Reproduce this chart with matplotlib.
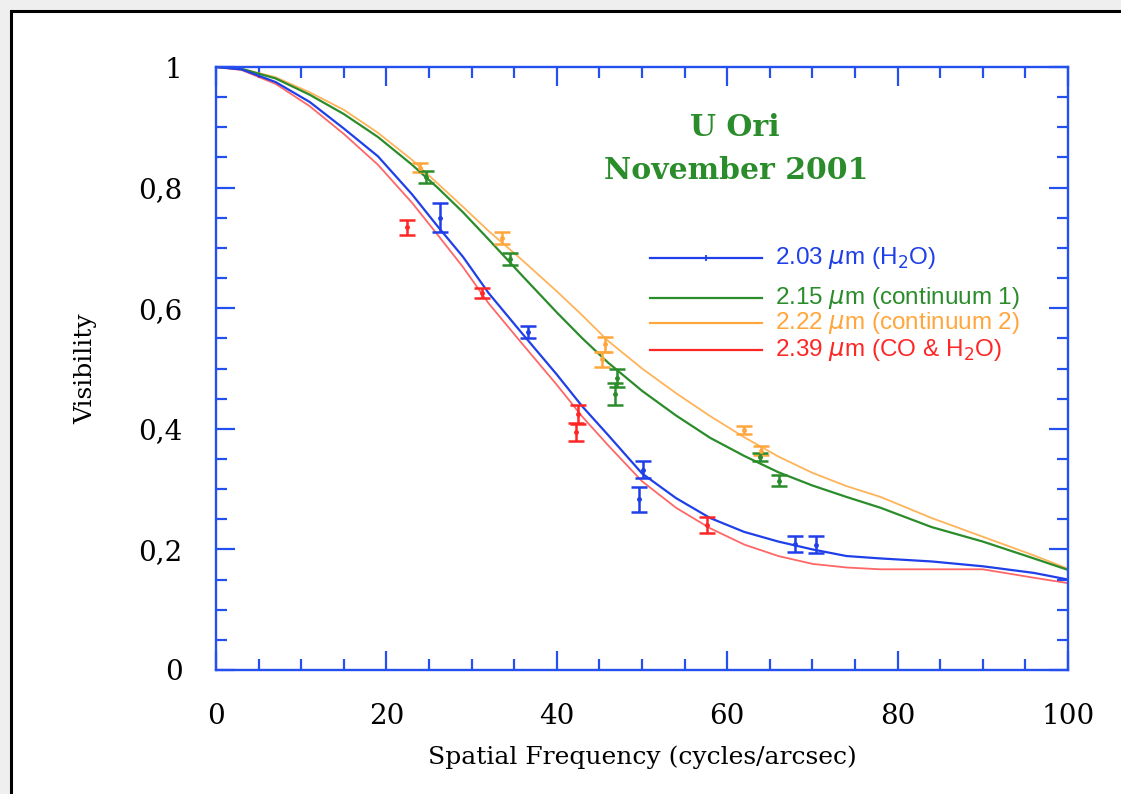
import numpy as np
import matplotlib
matplotlib.use("Agg")
import matplotlib.pyplot as plt
from matplotlib.patches import Rectangle

# model curves (spatial frequency in cycles/arcsec)
freq = [0, 3, 7, 11, 15, 19, 23, 26, 29, 32, 36, 40, 43, 46, 50, 54, 58,
        62, 66, 70, 74, 78, 84, 90, 96, 100]
vis_203 = [1.0, 0.996, 0.975, 0.942, 0.898, 0.852, 0.789, 0.736, 0.685, 0.625,
           0.557, 0.490, 0.437, 0.390, 0.326, 0.285, 0.252, 0.229, 0.213, 0.200,
           0.189, 0.185, 0.180, 0.172, 0.161, 0.150]
vis_215 = [1.0, 0.997, 0.981, 0.954, 0.922, 0.884, 0.838, 0.800, 0.759, 0.714,
           0.653, 0.593, 0.550, 0.510, 0.463, 0.422, 0.385, 0.355, 0.328, 0.306,
           0.287, 0.269, 0.237, 0.213, 0.185, 0.166]
vis_222 = [1.0, 0.997, 0.983, 0.958, 0.929, 0.891, 0.846, 0.807, 0.768, 0.728,
           0.679, 0.628, 0.588, 0.546, 0.500, 0.459, 0.421, 0.386, 0.354, 0.327,
           0.305, 0.287, 0.252, 0.221, 0.190, 0.168]
vis_239 = [1.0, 0.995, 0.972, 0.935, 0.889, 0.838, 0.775, 0.722, 0.668, 0.608,
           0.540, 0.473, 0.420, 0.373, 0.313, 0.269, 0.235, 0.208, 0.189, 0.176,
           0.170, 0.167, 0.167, 0.167, 0.153, 0.144]

# measured visibilities: frequency, value, error
obs_203_x = [26.3, 36.6, 50.1, 49.6, 68.0, 70.4]
obs_203_y = [0.750, 0.560, 0.332, 0.283, 0.209, 0.208]
obs_203_e = [0.024, 0.010, 0.014, 0.021, 0.013, 0.014]

obs_215_x = [24.6, 34.5, 47.1, 46.8, 63.9, 66.1]
obs_215_y = [0.817, 0.682, 0.485, 0.458, 0.353, 0.314]
obs_215_e = [0.010, 0.010, 0.015, 0.018, 0.007, 0.009]

obs_222_x = [24.0, 33.6, 45.6, 45.3, 62.0, 64.0]
obs_222_y = [0.833, 0.717, 0.540, 0.515, 0.398, 0.364]
obs_222_e = [0.007, 0.010, 0.012, 0.012, 0.006, 0.007]

obs_239_x = [22.4, 31.2, 42.5, 42.3, 57.6]
obs_239_y = [0.734, 0.625, 0.424, 0.394, 0.241]
obs_239_e = [0.013, 0.008, 0.016, 0.015, 0.013]

labels = [r"2.03 $\mu$m (H$_2$O)", r"2.15 $\mu$m (continuum 1)",
          r"2.22 $\mu$m (continuum 2)", r"2.39 $\mu$m (CO & H$_2$O)"]

blue = "#1f3fe8"
green = "#2a8c2a"
orange = "#ffa63c"
red = "#ff2626"
axcol = "#2450f0"

fig = plt.figure(figsize=(11.21, 7.94), dpi=100)
fig.patch.set_facecolor("#efefef")
frame = Rectangle((11 / 1121, -0.05), 1.2, 1.05 - 11 / 794,
                  transform=fig.transFigure, facecolor="white",
                  edgecolor="black", linewidth=2.2, zorder=-10)
fig.add_artist(frame)

ax = fig.add_axes([216 / 1121, 124 / 794, 852 / 1121, 603 / 794])
ax.set_facecolor("white")

ax.plot(freq, vis_222, color=orange, lw=1.3, alpha=0.85)
ax.plot(freq, vis_215, color=green, lw=1.6)
ax.plot(freq, vis_239, color=red, lw=1.3, alpha=0.7)
ax.plot(freq, vis_203, color=blue, lw=1.6)

for xs, ys, es, c in [(obs_222_x, obs_222_y, obs_222_e, orange),
                      (obs_215_x, obs_215_y, obs_215_e, green),
                      (obs_239_x, obs_239_y, obs_239_e, red),
                      (obs_203_x, obs_203_y, obs_203_e, blue)]:
    ax.errorbar(xs, ys, yerr=es, fmt="o", ms=2.5, color=c, ecolor=c,
                elinewidth=1.8, capsize=5.5, capthick=1.8)

# legend drawn by hand
rows = [0.683, 0.617, 0.575, 0.531]
for lab, c, yy in zip(labels, [blue, green, orange, red], rows):
    ax.plot([50.9, 64.1], [yy, yy], color=c, lw=1.6)
    ax.text(65.6, yy, lab, color=c, fontsize=17.5, family="Liberation Sans",
            va="center", ha="left")
ax.plot([57.5], [rows[0]], marker="|", ms=5, color=blue, mew=1.3)

ax.text(60.9, 0.900, "U Ori", color=green, fontsize=21.5, fontweight="bold",
        family="DejaVu Serif", ha="center", va="center")
ax.text(61.0, 0.829, "November 2001", color=green, fontsize=21.5,
        fontweight="bold", family="DejaVu Serif", ha="center", va="center")

ax.set_xlim(0, 100)
ax.set_ylim(0, 1)
ax.set_xticks([0, 20, 40, 60, 80, 100])
ax.set_xticks(np.arange(0, 101, 5), minor=True)
ax.set_yticks([0, 0.2, 0.4, 0.6, 0.8, 1.0])
ax.set_yticklabels(["0", "0,2", "0,4", "0,6", "0,8", "1"])
ax.set_yticks(np.arange(0, 1.01, 0.05), minor=True)

for s in ax.spines.values():
    s.set_color(axcol)
    s.set_linewidth(1.7)
ax.tick_params(which="both", direction="in", top=True, right=True,
               color=axcol, width=1.6)
ax.tick_params(which="major", length=14, labelsize=20, pad=24)
ax.tick_params(which="minor", length=8)
for lab in ax.get_xticklabels() + ax.get_yticklabels():
    lab.set_family("DejaVu Serif")

ax.set_xlabel("Spatial Frequency (cycles/arcsec)", family="DejaVu Serif",
              fontsize=18, labelpad=11)
ax.set_ylabel("Visibility", family="DejaVu Serif", fontsize=18,
              labelpad=30)

fig.savefig("out.png", dpi=100, facecolor=fig.get_facecolor())
